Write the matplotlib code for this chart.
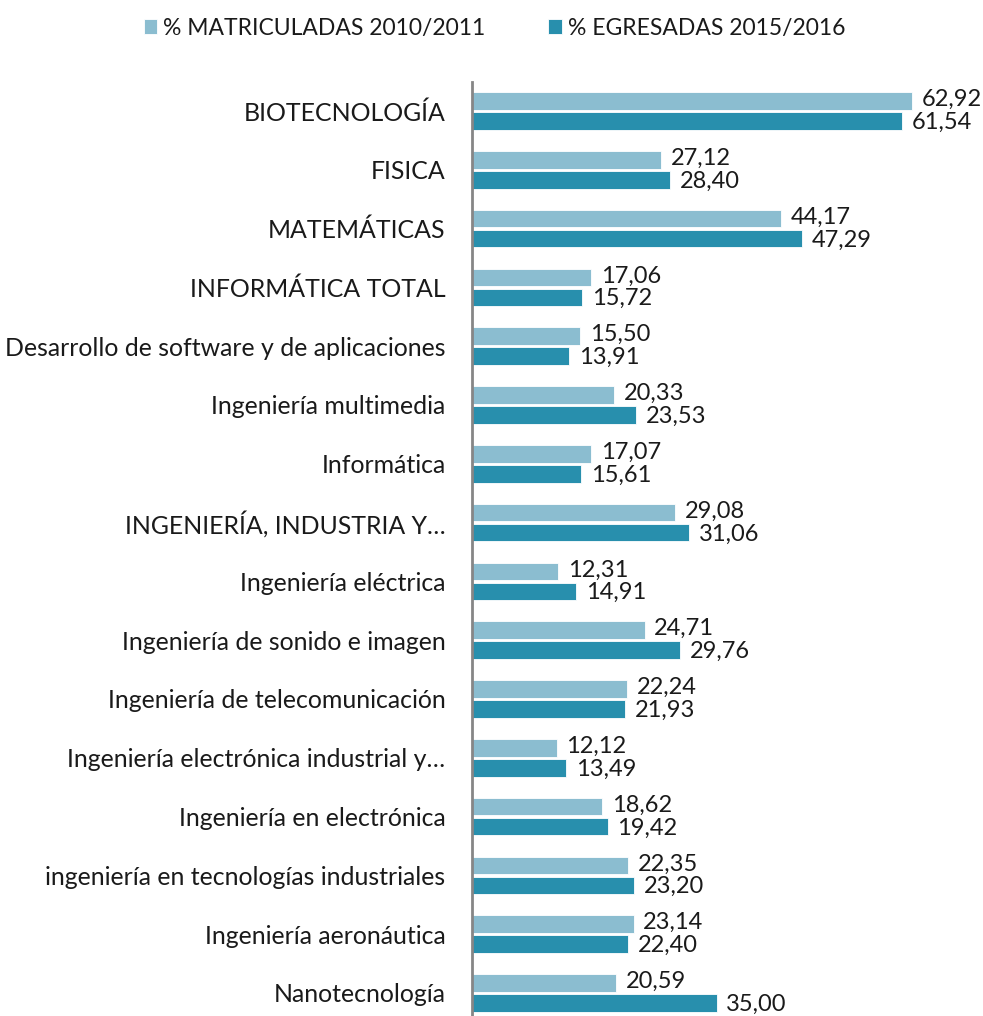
import matplotlib
matplotlib.use("Agg")
import matplotlib.pyplot as plt
import numpy as np

plt.rcParams['font.family'] = ['Lato', 'DejaVu Sans']

categories = [
    "BIOTECNOLOGÍA",
    "FISICA",
    "MATEMÁTICAS",
    "INFORMÁTICA TOTAL",
    "Desarrollo de software y de aplicaciones",
    "Ingeniería multimedia",
    "Informática",
    "INGENIERÍA, INDUSTRIA Y…",
    "Ingeniería eléctrica",
    "Ingeniería de sonido e imagen",
    "Ingeniería de telecomunicación",
    "Ingeniería electrónica industrial y…",
    "Ingeniería en electrónica",
    "ingeniería en tecnologías industriales",
    "Ingeniería aeronáutica",
    "Nanotecnología",
]
matriculadas = [62.92, 27.12, 44.17, 17.06, 15.50, 20.33, 17.07, 29.08,
                12.31, 24.71, 22.24, 12.12, 18.62, 22.35, 23.14, 20.59]
egresadas = [61.54, 28.40, 47.29, 15.72, 13.91, 23.53, 15.61, 31.06,
             14.91, 29.76, 21.93, 13.49, 19.42, 23.20, 22.40, 35.00]
series_names = ["% MATRICULADAS 2010/2011", "% EGRESADAS 2015/2016"]
colors = ["#8BBDD0", "#288FAD"]

W, H = 983, 1016
fig = plt.figure(figsize=(W / 100, H / 100), dpi=100)
left = 472 / W
right = 961 / W
top = 1 - 81.6 / H
bottom = 0.0
ax = fig.add_axes([left, bottom, right - left, top - bottom])

y = np.arange(len(categories))
h = 0.30
off = 0.17
b1 = ax.barh(y - off, matriculadas, height=h, color=colors[0],
             edgecolor="white", linewidth=0.6, label=series_names[0])
b2 = ax.barh(y + off, egresadas, height=h, color=colors[1],
             edgecolor="white", linewidth=0.6, label=series_names[1])

def fmt(v):
    return f"{v:.2f}".replace(".", ",")

for bars, vals, dy in ((b1, matriculadas, 1), (b2, egresadas, -1)):
    for rect, v in zip(bars, vals):
        ax.annotate(fmt(v), (rect.get_width(), rect.get_y() + rect.get_height() / 2),
                    xytext=(7, dy), textcoords="offset points",
                    va="center", ha="left", fontsize=17, color="#1a1a1a")

s = 58.8
span = (H - 81.6) / s
ax.set_ylim(-0.5 + span, -0.5)
ax.set_xlim(0, 70)
ax.set_yticks(y)
ax.set_yticklabels(categories, fontsize=17.9, color="#1a1a1a")
ax.tick_params(axis="y", length=0, pad=19)
ax.set_xticks([])
for sp in ["top", "right", "bottom"]:
    ax.spines[sp].set_visible(False)
ax.spines["left"].set_color("#868686")
ax.spines["left"].set_linewidth(2)

fig.legend(handles=[b1, b2], labels=series_names, loc="upper center",
           bbox_to_anchor=(0.503, 1.003), ncol=2, frameon=False,
           fontsize=16.5, handlelength=0.6, handleheight=0.6,
           handletextpad=0.25, columnspacing=2.75, labelcolor="#1a1a1a")

fig.savefig("out.png", dpi=100)
